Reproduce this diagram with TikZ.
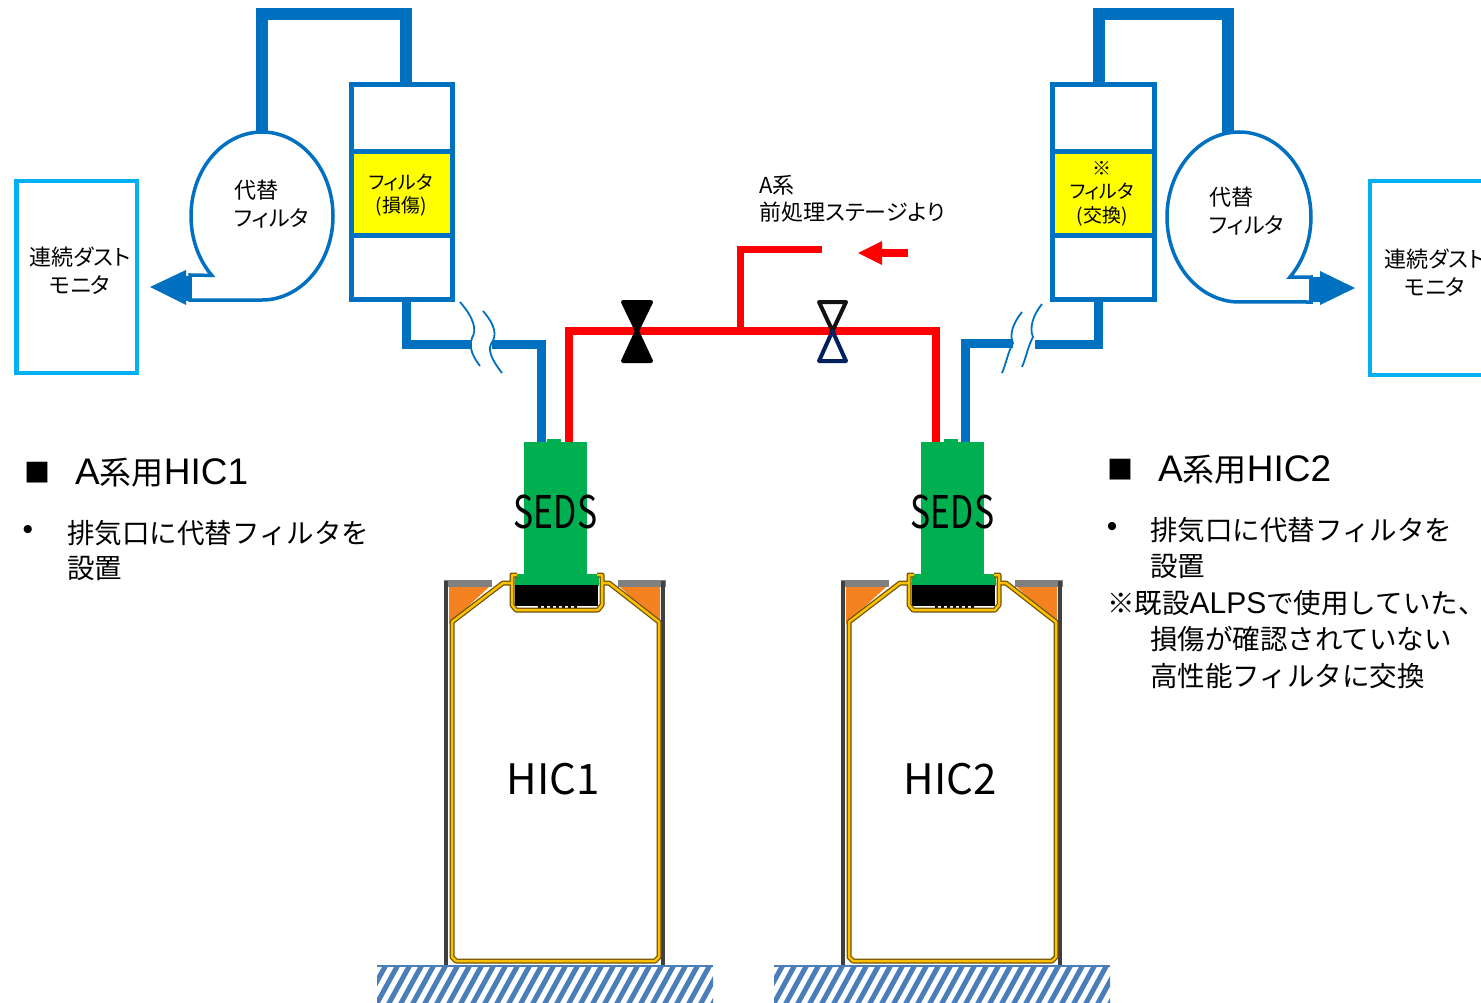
\documentclass[tikz,border=0pt]{standalone}
\usepackage{fontspec}
\usepackage{graphicx}
\setmainfont[RawFeature=+palt]{Noto Sans CJK JP}
\newfontfamily\jpfix{Noto Sans CJK JP}
\newfontfamily\latf{Liberation Sans}
\newcommand\lat[1]{{\latf\fontsize{37}{38}\selectfont #1}}
\newcommand\latb[1]{{\latf\fontsize{30}{35.5}\selectfont #1}}
\definecolor{pipeblue}{HTML}{0070C0}
\definecolor{monblue}{HTML}{00B0F0}
\definecolor{pipered}{HTML}{FF0000}
\definecolor{sedsgreen}{HTML}{00B050}
\definecolor{fyellow}{HTML}{FFFF00}
\definecolor{linergold}{HTML}{FFC000}
\definecolor{linerdark}{HTML}{6B5200}
\definecolor{orng}{HTML}{F58220}
\definecolor{wallgray}{HTML}{404040}
\definecolor{bandgray}{HTML}{808080}
\definecolor{hatchblue}{HTML}{4A7EBB}
\definecolor{navyv}{HTML}{002060}
\tikzset{
  bpipeT/.style={pipeblue, line width=11.5, line join=miter},
  bpipe/.style={pipeblue, line width=9, line join=miter},
  rpipe/.style={pipered, line width=8, line join=miter},
  brk/.style={pipeblue, line width=1.8},
  lbl/.style={inner sep=0pt, align=center, font=\fontsize{22}{28}\selectfont},
  flt/.style={inner sep=0pt, align=center, font=\fontsize{19}{23.5}\selectfont},
  head/.style={inner sep=0pt, anchor=west, font=\jpfix\fontsize{32}{38}\selectfont},
  body/.style={inner sep=0pt, anchor=west, align=left, font=\jpfix\fontsize{27.5}{35.5}\selectfont},
  sedsl/.style={inner sep=0pt, font=\fontsize{45}{50}\selectfont},
  hicl/.style={inner sep=0pt, font=\fontsize{42}{46}\selectfont},
  monbox/.style={draw=monblue, line width=4.5, fill=white, inner sep=0pt},
  filtbox/.style={draw=pipeblue, line width=5, fill=white, inner sep=0pt, minimum width=101, minimum height=215},
  blower/.style={pipeblue, line width=3.5, fill=white},
  valveline/.style={line width=4, line join=round},
  bullet/.style={inner sep=0pt, font=\latf\fontsize{30}{30}\selectfont},
  square/.style={inner sep=0pt, font=\fontsize{26}{30}\selectfont},
}
\newcommand\hicunit[3]{%
\begin{scope}[xshift=#1]
  \begin{scope}
    \clip (377,-966) rectangle (713,-1003);
    \foreach \k in {0,...,31} \draw[hatchblue, line width=5] ({352+\k*12},-1005) -- ++(23,42);
  \end{scope}
  \draw[hatchblue, line width=2] (377,-966) -- (713,-966);
  \fill[orng] (449,-587) -- (489,-587) -- (449,-624) -- cycle;
  \fill[orng] (660,-587) -- (620,-587) -- (660,-624) -- cycle;
  \fill[bandgray] (444,-580) rectangle (492,-587);
  \fill[bandgray] (618,-580) rectangle (666,-587);
  \draw[wallgray, line width=4.5] (446,-965) -- (446,-581);
  \draw[wallgray, line width=4.5] (663,-965) -- (663,-581);
  \fill[sedsgreen] (524,-442) rectangle (587,-577);
  \fill[sedsgreen] (515,-574) rectangle (599,-586);
  \fill[sedsgreen] (547,-439) rectangle (561,-443);
  \fill[black] (515,-585) rectangle (598,-606);
  \foreach \t in {0,...,6} \fill[black] ({538+\t*6},-605) rectangle ++(3,-4);
  \foreach \c/\w in {linerdark/5, linergold/2.5}{
    \draw[\c, line width=\w, line join=round] (517,-575) -- (512,-575) -- (512,-583) -- (503,-583) -- (452,-622) -- (452,-957) -- (456,-961) -- (655,-961) -- (659,-957) -- (659,-622) -- (609,-583) -- (602,-583) -- (602,-575) -- (597,-575);
    \draw[\c, line width=\w, line join=round] (512,-583) -- (512,-605) -- (516,-610) -- (598,-610) -- (602,-605) -- (602,-583);
  }
  \node[sedsl] (seds#2) at (555.5,-512) {\scalebox{0.75}[1]{SEDS}};
  \node[hicl] (hic#2) at (553,-779) {#3};
\end{scope}}
\begin{document}
\begin{tikzpicture}[x=1pt,y=1pt]
\useasboundingbox (0,0) rectangle (1481,-1003);
\fill[white] (0,0) rectangle (1481,-1003);
\clip (0,0) rectangle (1481,-1003);

% ---------- HIC units ----------
\hicunit{0pt}{1}{HIC1}
\hicunit{397pt}{2}{HIC2}

% ---------- monitors ----------
\node[monbox, minimum width=120.5, minimum height=191.5] (mon1) at (76.5,-277) {};
\node[lbl] (mon1t) at (80,-271) {連続ダスト\\モニタ};
\node[monbox, minimum width=130, minimum height=193.5] (mon2) at (1435,-278) {};
\node[lbl] (mon2t) at (1435,-272.5) {連続ダスト\\モニタ};

% ---------- blowers (alternative filters) ----------
\draw[blower] (211.8,-275.4) arc[start angle=225, end angle=-90, x radius=71, y radius=84] -- (190,-300) -- (190,-275) -- cycle;
\draw[blower] (1289.9,-277.1) arc[start angle=-45, end angle=270, x radius=72, y radius=85] -- (1311,-302) -- (1311,-277) -- cycle;
\node[lbl, align=left, anchor=west] (blw1) at (234,-204) {代替\\フィルタ};
\node[lbl, align=left, anchor=west] (blw2) at (1209,-211) {代替\\フィルタ};
\coordinate (a1tip) at (150,-287);
\coordinate (a2tip) at (1355,-288);
\fill[pipeblue] (184,-276) rectangle (192,-301);
\fill[pipeblue] (a1tip) -- (186,-270) -- (186,-305) -- cycle;
\fill[pipeblue] (1309,-277) rectangle (1321,-302);
\fill[pipeblue] (a2tip) -- (1320,-271) -- (1320,-305) -- cycle;

% ---------- filter columns ----------
\node[filtbox] (filt1) at (402,-192) {};
\fill[fyellow] (354,-152) rectangle (450,-236);
\draw[pipeblue, line width=5] (351.5,-152) -- (452.5,-152);
\draw[pipeblue, line width=5] (351.5,-236) -- (452.5,-236);
\node[flt] (filt1t) at (401,-195) {フィルタ\\(損傷)};

\node[filtbox, minimum width=102] (filt2) at (1103.5,-192) {};
\fill[fyellow] (1055,-152) rectangle (1152,-236);
\draw[pipeblue, line width=5] (1052.5,-152) -- (1154.5,-152);
\draw[pipeblue, line width=5] (1052.5,-236) -- (1154.5,-236);
\node[flt] (filt2t) at (1102,-193.5) {※\\フィルタ\\(交換)};

% ---------- blue pipes ----------
\draw[bpipeT] (262,-133) -- (262,-14) -- (406,-14) -- (406,-83);
\draw[bpipeT] (1099,-83) -- (1099,-14) -- (1228,-14) -- (1228,-134);
\draw[bpipe] (406,-301) -- (406,-344) -- (472,-344);
\draw[bpipe] (492,-344) -- (541,-344) -- (541,-442);
\draw[bpipe] (965,-442) -- (965,-343) -- (1013,-343);
\draw[bpipe] (1035,-344) -- (1098,-344) -- (1098,-301);
% pipe breaks
\draw[brk] (460,-302) .. controls (474,-318) and (477,-330) .. (472,-338) .. controls (468,-348) and (474,-358) .. (480,-366);
\draw[brk] (483,-311) .. controls (496,-326) and (497,-336) .. (491,-344) .. controls (487,-352) and (495,-364) .. (502,-373);
\draw[brk] (1042,-304) .. controls (1033,-315) and (1029,-328) .. (1033,-337) .. controls (1028,-346) and (1026,-358) .. (1022,-367);
\draw[brk] (1022,-312) .. controls (1013,-323) and (1009,-335) .. (1013,-343) .. controls (1008,-352) and (1006,-364) .. (1002,-373);

% ---------- red pipes ----------
\draw[rpipe] (569,-442) -- (569,-331) -- (936,-331) -- (936,-442);
\draw[pipered, line width=7, line join=miter] (740,-331) -- (740,-250) -- (822,-250);
\draw[pipered, line width=8] (879,-253) -- (908,-253);
\fill[pipered] (858,-253) -- (882,-241) -- (882,-265) -- cycle;
\node[lbl, align=left, anchor=west, font=\fontsize{22}{27}\selectfont] (src) at (759,-198.5) {A系\\前処理ステージより};

% ---------- valves ----------
\coordinate (v1) at (637,-331);
\filldraw[valveline, black] (623,-302) -- (651,-302) -- (v1) -- cycle;
\filldraw[valveline, black] (623,-361) -- (651,-361) -- (v1) -- cycle;
\coordinate (v2) at (832.5,-331);
\draw[valveline, black!93, fill=white] (819,-302) -- (846,-302) -- (v2) -- cycle;
\draw[valveline, navyv, fill=white] (819,-361) -- (846,-361) -- (v2) -- cycle;

% ---------- left notes ----------
\node[square] (sq1) at (37.5,-473) {■};
\node[head] (h1) at (75,-473) {\lat{A}系用\lat{HIC1}};
\node[bullet] (bu1) at (28,-532) {•};
\node[body] (n1) at (67,-550.5) {排気口に代替フィルタを\\設置};

% ---------- right notes ----------
\node[square] (sq2) at (1120,-470) {■};
\node[head] (h2) at (1158,-470) {\lat{A}系用\lat{HIC2}};
\node[bullet] (bu2) at (1112,-529) {•};
\node[body] (n2) at (1150,-548) {排気口に代替フィルタを\\設置};
\node[body] (n3) at (1107,-603) {※既設\latb{ALPS}で使用していた、};
\node[body] (n4) at (1150,-639) {損傷が確認されていない};
\node[body] (n5) at (1150,-676) {高性能フィルタに交換};
\end{tikzpicture}
\end{document}
